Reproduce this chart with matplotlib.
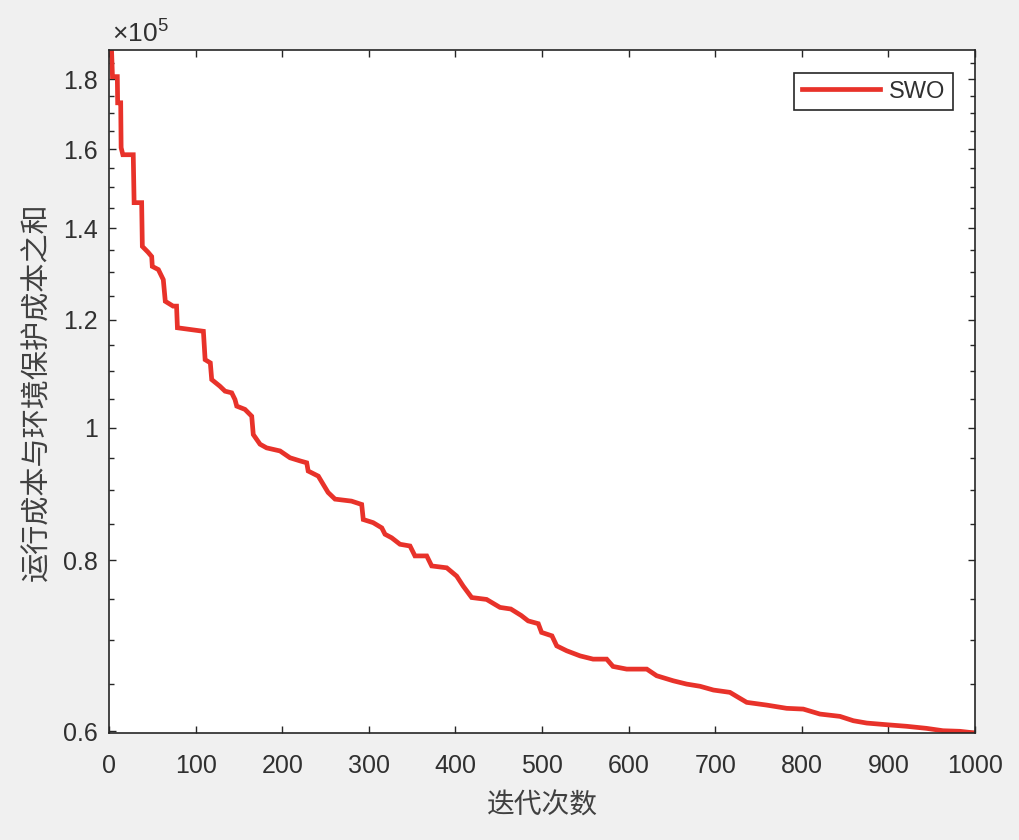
import matplotlib
matplotlib.use("Agg")
import matplotlib.pyplot as plt
from matplotlib.ticker import FixedLocator, FuncFormatter, NullFormatter

# ---- data (vertices of best-so-far curve) ----
iters = [0, 3, 4, 9.6, 10, 13.5, 14, 16, 28, 29, 37.7, 38.5, 45, 49.3, 50, 57, 62.7, 65,
         74, 78, 79, 109, 111, 117, 118.6, 128, 134, 141.7, 145.5, 147.5, 157, 164.8, 166.6,
         174.4, 182, 197.5, 209, 220.6, 228.3, 230, 241.7, 247.5, 253, 261, 280, 291.8, 293.6,
         305, 315, 318.7, 326.4, 336, 347.6, 353.3, 366.9, 372.6, 390, 401.5, 409, 418.8, 436,
         451.5, 464, 476, 484, 495.7, 499.5, 511.5, 517, 528.5, 544, 559, 574.7, 582, 597.8,
         621, 632.4, 651.6, 667, 682.5, 698, 717, 726.7, 736.4, 759.5, 782.5, 801.7, 821, 844,
         859.5, 875, 898, 921, 944, 963, 982.7, 1000]
best = [1.891, 1.886, 1.808, 1.808, 1.730, 1.730, 1.604, 1.585, 1.585, 1.462, 1.462, 1.358,
        1.345, 1.335, 1.313, 1.306, 1.284, 1.238, 1.228, 1.228, 1.184, 1.177, 1.122, 1.116,
        1.085, 1.073, 1.064, 1.061, 1.049, 1.0375, 1.0318, 1.020, 0.989, 0.973, 0.967, 0.962,
        0.951, 0.946, 0.943, 0.930, 0.922, 0.909, 0.897, 0.887, 0.884, 0.879, 0.857, 0.8525,
        0.845, 0.836, 0.831, 0.822, 0.8196, 0.806, 0.806, 0.7925, 0.790, 0.779, 0.766, 0.7514,
        0.749, 0.739, 0.737, 0.729, 0.7224, 0.719, 0.7085, 0.7044, 0.6926, 0.6869, 0.681,
        0.6773, 0.6773, 0.669, 0.666, 0.666, 0.6586, 0.653, 0.6494, 0.647, 0.6429, 0.6404,
        0.635, 0.6297, 0.6268, 0.6234, 0.6226, 0.6174, 0.615, 0.6105, 0.6081, 0.6064, 0.6048,
        0.6027, 0.6003, 0.5997, 0.598]
best = [b * 1e5 for b in best]

series_name = "SWO"
xlabel = "迭代次数"
ylabel = "运行成本与环境保护成本之和"
xticks = list(range(0, 1001, 100))
yticks_major = [0.6e5, 0.8e5, 1.0e5, 1.2e5, 1.4e5, 1.6e5, 1.8e5]
yticks_minor = [v * 1e5 for v in [0.65, 0.7, 0.75, 0.85, 0.9, 0.95, 1.05, 1.1, 1.15, 1.25,
                                  1.3, 1.35, 1.45, 1.5, 1.55, 1.65, 1.7, 1.75, 1.85]]

plt.rcParams['font.family'] = ['Liberation Sans', 'Noto Sans CJK SC', 'DejaVu Sans']
plt.rcParams['mathtext.fontset'] = 'custom'
plt.rcParams['mathtext.rm'] = 'Liberation Sans'

txt = '#303030'
ax_col = '#262626'
fig = plt.figure(figsize=(10.2, 8.4), dpi=100, facecolor='#f0f0f0')
ax = fig.add_axes([109/1020, 1-733/840, (975-109)/1020, (733-50)/840])
ax.set_facecolor('white')

ax.plot(iters, best, color='#e8322a', lw=3.4, label=series_name,
        solid_joinstyle='miter')

ax.set_yscale('log')
ax.set_xlim(0, 1000)
ax.set_ylim(0.598e5, 1.891e5)
ax.set_xticks(xticks)
ax.xaxis.set_major_formatter(FuncFormatter(lambda v, p: f"{int(v)}"))
ax.yaxis.set_major_locator(FixedLocator(yticks_major))
ax.yaxis.set_minor_locator(FixedLocator(yticks_minor))
ax.yaxis.set_major_formatter(FuncFormatter(lambda v, p: f"{v/1e5:g}"))
ax.yaxis.set_minor_formatter(NullFormatter())
ax.xaxis.set_minor_locator(FixedLocator([]))

ax.tick_params(axis='both', which='both', direction='in', top=True, right=True,
               colors=ax_col, labelcolor=txt, width=1.0)
ax.tick_params(axis='both', which='major', length=5, labelsize=18)
ax.tick_params(axis='x', which='major', pad=15)
ax.tick_params(axis='y', which='major', pad=8)
ax.tick_params(axis='y', which='minor', length=3.5)
for s in ax.spines.values():
    s.set_color(ax_col)
    s.set_linewidth(1.2)

ax.set_xlabel(xlabel, fontsize=20, color='#404040', family=['Noto Sans CJK SC'])
ax.xaxis.set_label_coords(0.5, -0.085)
ax.set_ylabel(ylabel, fontsize=21, color='#404040', family=['Noto Sans CJK SC'])
ax.yaxis.set_label_coords(-0.0657, 0.5)

ax.text(3/866, 1 + 8/683, r'$\times10^{5}$', transform=ax.transAxes, fontsize=19,
        color=txt, ha='left', va='baseline')

leg = ax.legend(loc='upper right', bbox_to_anchor=(953/1020, 1-73/840),
                bbox_transform=fig.transFigure, borderaxespad=0, fontsize=17,
                fancybox=False, framealpha=1, edgecolor=ax_col, handlelength=3.3,
                handletextpad=0.4, borderpad=0.32)
leg.get_frame().set_linewidth(1.2)
for t in leg.get_texts():
    t.set_color(txt)

fig.savefig('out.png', dpi=100, facecolor=fig.get_facecolor())
